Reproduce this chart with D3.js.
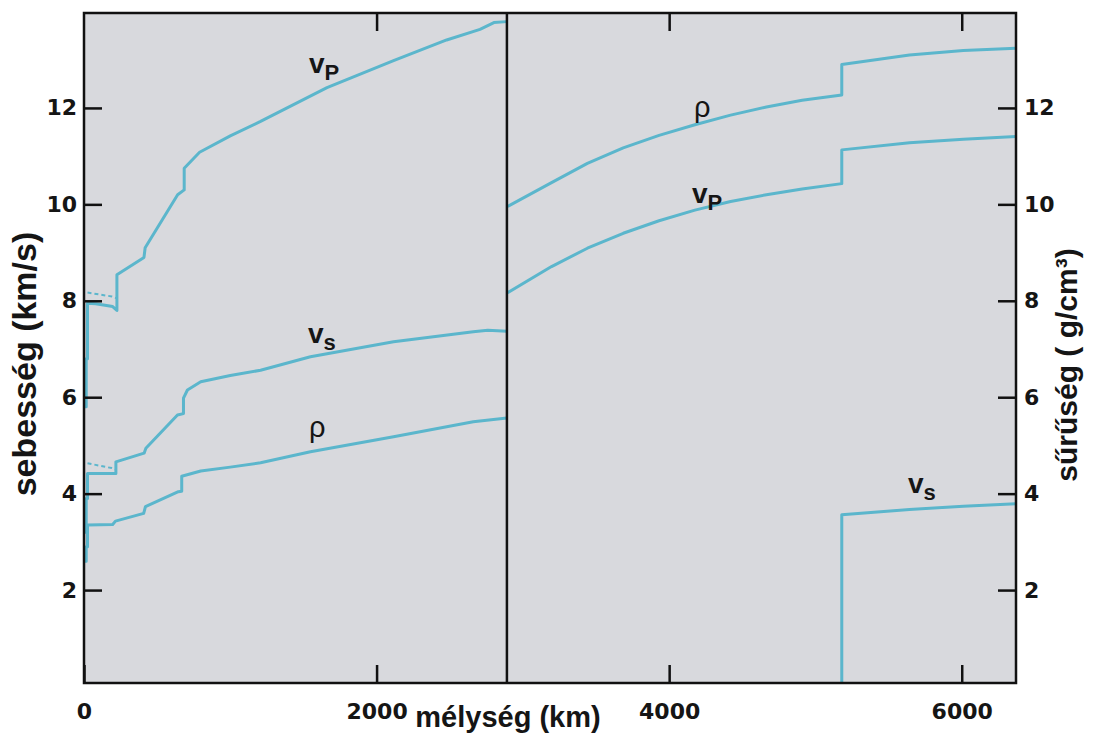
<!DOCTYPE html>
<html><head><meta charset="utf-8">
<script src="https://cdn.jsdelivr.net/npm/d3@7"></script>
<style>
html,body{margin:0;padding:0;background:#fff;}
svg{display:block;}
</style></head>
<body>
<svg id="chart" width="1093" height="735"></svg>
<script>
// ---------- DATA (depth km, value) ----------
const depthTicks = [0, 2000, 4000, 6000];
const valueTicks = [2, 4, 6, 8, 10, 12];
const cmbDepth = 2891;
const earthRadius = 6371;

const vpMantle = [[0,5.8],[15,5.8],[15,6.8],[24,6.8],[24,7.95],[80,7.94],[196,7.88],[225,7.8],[225,8.54],[410,8.9],[418,9.1],[640,10.2],[685,10.3],[685,10.75],[790,11.08],[1000,11.42],[1207,11.72],[1661,12.42],[2116,12.98],[2479,13.41],[2707,13.63],[2802,13.77],[2891,13.79]];
const vsMantle = [[0,3.2],[15,3.2],[15,3.9],[24,3.9],[24,4.42],[218,4.42],[218,4.66],[411,4.84],[423,4.94],[639,5.63],[680,5.66],[680,5.98],[707,6.15],[798,6.32],[1000,6.45],[1207,6.56],[1548,6.84],[2116,7.15],[2661,7.36],[2760,7.39],[2891,7.37]];
const rhoMantle = [[0,2.6],[15,2.6],[15,2.9],[24,2.9],[24,3.35],[196,3.36],[215,3.43],[408,3.59],[420,3.73],[645,4.04],[668,4.05],[668,4.36],[798,4.47],[1000,4.55],[1207,4.64],[1548,4.87],[2116,5.18],[2661,5.49],[2891,5.57]];
const vpDashed = [[24,8.17],[190,8.09],[225,8.05]];
const vsDashed = [[24,4.63],[190,4.53],[218,4.5]];

const vpCore = [[2891,8.16],[3196,8.71],[3441,9.09],[3686,9.40],[3931,9.66],[4176,9.88],[4420,10.06],[4665,10.2],[4909,10.32],[5180,10.43],[5180,11.13],[5643,11.28],[6011,11.35],[6371,11.41]];
const rhoCore = [[2891,9.95],[3196,10.45],[3441,10.85],[3686,11.17],[3931,11.43],[4176,11.65],[4420,11.85],[4665,12.02],[4909,12.16],[5180,12.27],[5180,12.9],[5643,13.1],[6011,13.19],[6371,13.24]];
const vsCore = [[5180,0],[5180,3.56],[5643,3.67],[6011,3.74],[6371,3.79]];

// curve labels: [text, subscript, depth, value]
const curveLabels = [
  ["v","P",1538,12.72],
  ["v","s",1531,7.12],
  ["ρ","",1538,5.17],
  ["ρ","",4170,11.81],
  ["v","P",4156,10.03],
  ["v","s",5633,4.01]
];

// ---------- LAYOUT ----------
const svg = d3.select("#chart");
const plotTop = 13, plotBottom = 683;
const x = d3.scaleLinear().domain([0, earthRadius]).range([84, 1016]);
const y = d3.scaleLinear().domain([0, 14]).range([686.5, 11.5]);
const lineColor = "#5bb6cc";
const tickFont = "'DejaVu Sans', sans-serif";
const titleFont = "'Liberation Sans', Arial, sans-serif";

svg.append("rect").attr("width",1093).attr("height",735).attr("fill","#fff");

svg.append("defs").append("clipPath").attr("id","clip")
  .append("rect").attr("x",x(0)).attr("y",plotTop)
  .attr("width",x(earthRadius)-x(0)).attr("height",plotBottom-plotTop);

svg.append("rect")
  .attr("x",x(0)).attr("y",plotTop)
  .attr("width",x(earthRadius)-x(0)).attr("height",plotBottom-plotTop)
  .attr("fill","#d8d9dd");

const line = d3.line().x(d=>x(d[0])).y(d=>y(d[1])).curve(d3.curveLinear);
const g = svg.append("g").attr("clip-path","url(#clip)");

[vpMantle, vsMantle, rhoMantle, vpCore, rhoCore, vsCore].forEach(s=>{
  g.append("path").attr("d",line(s)).attr("fill","none")
   .attr("stroke",lineColor).attr("stroke-width",3)
   .attr("stroke-linejoin","round");
});
[vpDashed, vsDashed].forEach(s=>{
  g.append("path").attr("d",line(s)).attr("fill","none")
   .attr("stroke",lineColor).attr("stroke-width",2)
   .attr("stroke-dasharray","4,3");
});

// CMB line
svg.append("line")
  .attr("x1",x(cmbDepth)).attr("x2",x(cmbDepth))
  .attr("y1",plotTop).attr("y2",plotBottom)
  .attr("stroke","#111").attr("stroke-width",2.5);

// frame
svg.append("rect")
  .attr("x",x(0)).attr("y",plotTop)
  .attr("width",x(earthRadius)-x(0)).attr("height",plotBottom-plotTop)
  .attr("fill","none").attr("stroke","#111").attr("stroke-width",2.5);

function styleAxis(sel){
  sel.select(".domain").remove();
  sel.selectAll(".tick line").attr("stroke","#111").attr("stroke-width",2.5);
  sel.selectAll(".tick text").attr("fill","#151515")
    .style("font-family",tickFont).style("font-weight","bold").style("font-size","22px");
}

svg.append("g").attr("transform",`translate(${x(0)},0)`)
  .call(d3.axisLeft(y).tickValues(valueTicks).tickSize(-18).tickPadding(7).tickFormat(d3.format("d")))
  .call(styleAxis);
svg.append("g").attr("transform",`translate(${x(earthRadius)},0)`)
  .call(d3.axisRight(y).tickValues(valueTicks).tickSize(-18).tickPadding(8).tickFormat(d3.format("d")))
  .call(styleAxis);
svg.append("g").attr("transform",`translate(0,${plotBottom})`)
  .call(d3.axisBottom(x).tickValues(depthTicks).tickSize(-18).tickPadding(20).tickFormat(d3.format("d")))
  .call(styleAxis);
svg.append("g").attr("transform",`translate(0,${plotTop})`)
  .call(d3.axisTop(x).tickValues(depthTicks.filter(d=>d>0)).tickSize(-18).tickFormat(""))
  .call(styleAxis);

// axis titles
svg.append("text").attr("transform","translate(36,364) rotate(-90)")
  .attr("text-anchor","middle").style("font-family",titleFont)
  .style("font-weight","bold").style("font-size","34px").attr("fill","#151515")
  .text("sebesség (km/s)");
svg.append("text").attr("transform","translate(1077,365) rotate(-90)")
  .attr("text-anchor","middle").style("font-family",titleFont)
  .style("font-weight","bold").style("font-size","30px").attr("fill","#151515")
  .text("sűrűség ( g/cm³)");
svg.append("text").attr("x",508).attr("y",727)
  .attr("text-anchor","middle").style("font-family",titleFont)
  .style("font-weight","bold").style("font-size","29px").attr("fill","#151515")
  .text("mélység (km)");

// curve labels
curveLabels.forEach(([t,sub,dx,vy])=>{
  const tx = svg.append("text").attr("x",x(dx)).attr("y",y(vy))
    .style("font-family",titleFont).attr("fill","#151515");
  tx.append("tspan").text(t)
    .style("font-weight", t==="ρ" ? "normal" : "bold")
    .style("font-size", t==="ρ" ? "29px" : "28px");
  if(sub){
    tx.append("tspan").text(sub).attr("dy",7)
      .style("font-weight","bold").style("font-size","22px");
  }
});
</script>
</body></html>
